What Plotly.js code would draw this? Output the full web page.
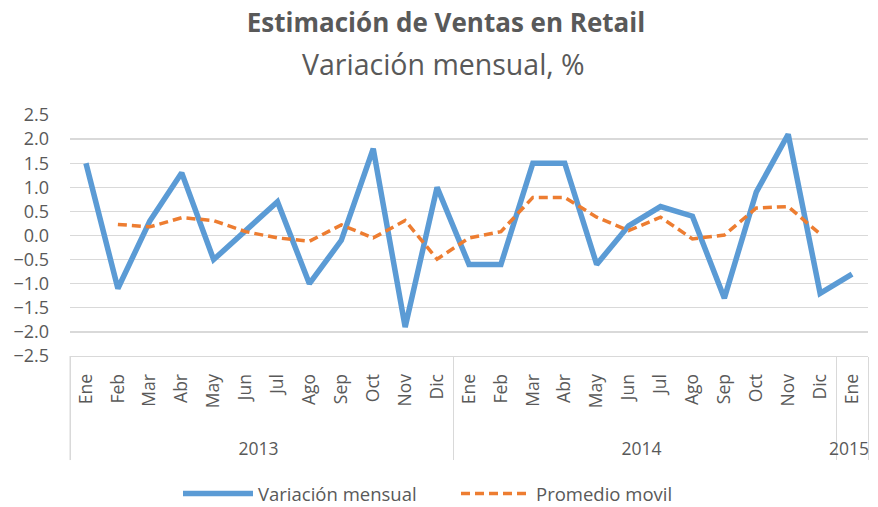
<!DOCTYPE html>
<html>
<head>
<meta charset="utf-8">
<script src="https://cdn.plot.ly/plotly-3.0.1.min.js"></script>
<style>html,body{margin:0;padding:0;background:#fff;}#chart{width:878px;height:507px;}</style>
</head>
<body>
<div id="chart"></div>
<script>
const years = ["2013","2013","2013","2013","2013","2013","2013","2013","2013","2013","2013","2013",
               "2014","2014","2014","2014","2014","2014","2014","2014","2014","2014","2014","2014",
               "2015"];
const months = ["Ene","Feb","Mar","Abr","May","Jun","Jul","Ago","Sep","Oct","Nov","Dic",
                "Ene","Feb","Mar","Abr","May","Jun","Jul","Ago","Sep","Oct","Nov","Dic",
                "Ene"];
const variacionMensual = [1.5,-1.1,0.3,1.3,-0.5,0.1,0.7,-1.0,-0.1,1.8,-1.9,1.0,
                          -0.6,-0.6,1.5,1.5,-0.6,0.2,0.6,0.4,-1.3,0.9,2.1,-1.2,
                          -0.8];
const promedioMovil = [null,0.23,0.18,0.37,0.31,0.08,-0.05,-0.12,0.22,-0.05,0.31,-0.49,
                       -0.05,0.08,0.79,0.79,0.38,0.1,0.38,-0.07,0.01,0.57,0.6,0.03,
                       null];

const gray = "#595959";
const font = "'Open Sans', sans-serif";

// year labels get an empty first line so they sit lower, as in the reference
const xCats = [years.map(y => "<br>" + y), months];

const traces = [
  {
    x: xCats, y: variacionMensual, type: "scatter", mode: "lines",
    name: "Variación mensual",
    line: {color: "#5B9BD5", width: 5.5}
  },
  {
    x: xCats, y: promedioMovil, type: "scatter", mode: "lines",
    name: "Promedio movil",
    line: {color: "#ED7D31", width: 3.5, dash: "9px,5px"},
    connectgaps: false
  }
];

const plotTop = 114.5, plotBottom = 356.5, plotH = plotBottom - plotTop;

const layout = {
  width: 878, height: 507,
  margin: {l: 70, r: 10, t: plotTop, b: 507 - plotBottom, autoexpand: false},
  paper_bgcolor: "#fff", plot_bgcolor: "#fff",
  font: {family: font, color: gray, size: 17},
  title: {
    text: "<b>Estimación de Ventas en Retail</b>",
    font: {family: font, size: 26, color: gray},
    x: 446 / 878, xanchor: "center",
    yref: "container", y: 1 - 23/507, yanchor: "middle"
  },
  annotations: [{
    text: "Variación mensual, %",
    xref: "paper", yref: "paper", x: (443 - 70) / 798, y: 1 + (plotTop - 63) / plotH,
    xanchor: "center", yanchor: "middle", showarrow: false,
    font: {family: font, size: 28.5, color: gray}
  }],
  shapes: [{
    type: "line", xref: "paper", yref: "paper",
    x0: 0, x1: 0, y0: 0, y1: -(461 - plotBottom) / plotH,
    line: {color: "#D9D9D9", width: 1}
  }],
  xaxis: {
    type: "multicategory",
    range: [-0.5, 24.5], autorange: false,
    showline: true, linecolor: "#D9D9D9", linewidth: 1,
    showgrid: false, ticks: "",
    tickangle: -90,
    ticklabelstandoff: 10,
    tickfont: {family: font, size: 17.5, color: gray},
    showdividers: true, dividercolor: "#D9D9D9", dividerwidth: 1,
    automargin: false
  },
  yaxis: {
    range: [-2.5, 2.5], autorange: false, dtick: 0.5, tickformat: ".1f",
    showgrid: true, gridcolor: "#D9D9D9", gridwidth: 1.3,
    zeroline: false, showline: false, ticks: "",
    ticklabelstandoff: 20,
    tickfont: {family: font, size: 18, color: gray},
    automargin: false
  },
  legend: {
    orientation: "h", x: (178 - 70) / 798, xanchor: "left",
    yref: "container", y: 1 - 494/507, yanchor: "middle",
    font: {family: font, size: 18.5, color: gray},
    itemwidth: 70,
    entrywidth: 193, entrywidthmode: "pixels"
  },
  showlegend: true
};

Plotly.newPlot("chart", traces, layout, {displayModeBar: false, staticPlot: true});
</script>
</body>
</html>
